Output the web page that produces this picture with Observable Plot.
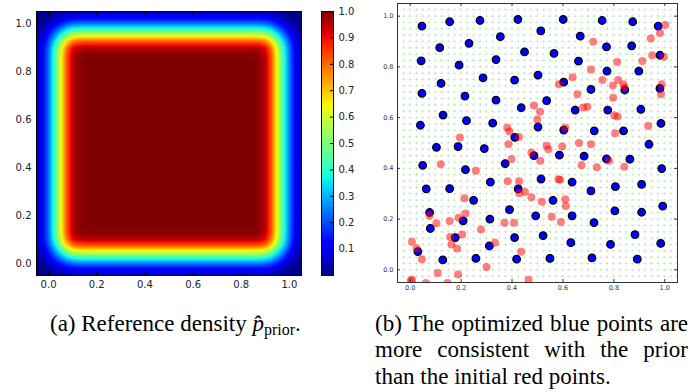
<!DOCTYPE html>
<html><head><meta charset="utf-8">
<script src="https://cdn.jsdelivr.net/npm/d3@7"></script>
<script src="https://cdn.jsdelivr.net/npm/@observablehq/plot@0.6"></script>
<style>
body{margin:0;background:#fff}
#fig{position:relative;width:690px;height:392px;overflow:hidden;font-family:"Liberation Serif",serif;color:#000}
#fig > svg, #fig > div{position:absolute}
.cap{font-size:23px;line-height:26.3px;white-space:nowrap}
.jl{display:block;width:313px;text-align:justify;text-align-last:justify;white-space:normal}
</style></head><body><div id="fig"></div>
<script>
// ---- data ----
// edge profile of the reference density, symmetric about 0.5
const profileX = [-0.06,-0.05,-0.025,0,0.025,0.05,0.075,0.1,0.125,0.15,0.85,0.875,0.9,0.925,0.95,0.975,1,1.025,1.05,1.06];
const profileV = [0.04,0.05,0.11,0.24,0.42,0.62,0.82,0.95,0.99,1.0,1.0,0.99,0.95,0.82,0.62,0.42,0.24,0.11,0.05,0.04];
const axisTicks = [0,0.2,0.4,0.6,0.8,1.0];
const cbarTicks = [0.1,0.2,0.3,0.4,0.5,0.6,0.7,0.8,0.9,1.0];
const jetStops = [0,0.11,0.125,0.34,0.35,0.375,0.64,0.65,0.66,0.89,0.91,1];
const jetColors = ["#000080","#0000ff","#0000ff","#00dbff","#00e6f7","#15ffe2","#eeff08","#f7f600","#ffec00","#ff1300","#e80000","#800000"];

const blueX = [0.046,0.155,0.274,0.423,0.601,0.754,0.874,0.974,0.116,0.231,0.354,0.513,0.668,0.771,0.870,0.981,0.043,0.192,0.337,0.449,0.565,0.661,0.773,0.898,0.121,0.286,0.410,0.502,0.603,0.710,0.843,0.981,0.046,0.215,0.337,0.536,0.436,0.648,0.776,0.906,0.129,0.040,0.221,0.324,0.502,0.603,0.723,0.838,0.985,0.411,0.938,0.103,0.188,0.291,0.486,0.586,0.683,0.771,0.863,0.049,0.217,0.373,0.988,0.063,0.155,0.315,0.424,0.514,0.561,0.636,0.710,0.806,0.909,0.249,0.076,0.208,0.313,0.390,0.493,0.636,0.722,0.804,0.909,0.992,0.079,0.177,0.410,0.522,0.631,0.787,0.883,0.984,0.030,0.128,0.258,0.311,0.418,0.549,0.714,0.892];
const blueY = [0.961,0.978,0.983,0.987,0.987,0.983,0.978,0.961,0.876,0.893,0.919,0.942,0.921,0.879,0.883,0.846,0.824,0.807,0.829,0.859,0.853,0.823,0.783,0.783,0.735,0.757,0.748,0.768,0.740,0.711,0.709,0.715,0.696,0.685,0.669,0.667,0.639,0.630,0.630,0.633,0.610,0.570,0.588,0.578,0.563,0.551,0.548,0.548,0.577,0.522,0.495,0.483,0.486,0.478,0.450,0.452,0.448,0.437,0.436,0.412,0.395,0.419,0.399,0.319,0.320,0.346,0.319,0.358,0.274,0.346,0.311,0.328,0.337,0.274,0.226,0.193,0.200,0.237,0.213,0.213,0.186,0.232,0.227,0.251,0.163,0.127,0.127,0.135,0.107,0.100,0.139,0.104,0.072,0.039,0.045,0.094,0.042,0.045,0.047,0.042];

const redX = [1.002,0.981,0.945,0.719,0.951,0.997,0.912,0.813,0.710,0.638,0.755,0.817,0.796,0.838,0.842,0.584,0.988,0.985,0.657,0.797,0.486,0.510,0.680,0.696,0.802,0.815,0.499,0.381,0.390,0.609,0.935,0.195,0.427,0.386,0.536,0.543,0.597,0.663,0.710,0.805,0.476,0.398,0.511,0.120,0.258,0.673,0.733,0.781,0.841,0.383,0.427,0.428,0.451,0.476,0.517,0.582,0.589,0.609,0.611,0.213,0.217,0.190,0.155,0.103,0.076,0.278,0.370,0.408,0.556,0.592,0.157,0.204,0.162,0.184,0.333,0.436,0.007,0.025,0.046,0.108,0.188,0.300,0.007,0.002,0.062,0.147,0.465];
const redY = [0.965,0.934,0.912,0.899,0.846,0.840,0.823,0.819,0.790,0.759,0.748,0.748,0.727,0.732,0.719,0.732,0.732,0.692,0.692,0.678,0.648,0.623,0.640,0.643,0.608,0.604,0.593,0.560,0.545,0.560,0.567,0.522,0.524,0.495,0.489,0.475,0.486,0.500,0.495,0.538,0.463,0.437,0.430,0.416,0.391,0.412,0.404,0.430,0.406,0.349,0.349,0.302,0.307,0.286,0.268,0.357,0.355,0.278,0.252,0.282,0.222,0.205,0.192,0.184,0.213,0.159,0.186,0.186,0.209,0.189,0.129,0.139,0.100,0.084,0.107,0.071,0.111,0.085,0.042,-0.013,-0.018,0.011,-0.039,-0.042,-0.052,-0.052,-0.039];

// ---- build tables ----
const field = [];
profileX.forEach((x, i) => profileX.forEach((y, j) => field.push({x, y, v: profileV[i] * profileV[j]})));
const blue = blueX.map((x, i) => ({x, y: blueY[i]}));
const red = redX.map((x, i) => ({x, y: redY[i]}));

const colorScale = {type: "linear", domain: jetStops, range: jetColors, interpolate: "rgb"};
const fmt = d3.format(".1f");
const fig = document.getElementById("fig");

// ---- panel (a): heatmap ----
const hmW = 310, hmH = 292, hmL = 36, hmR = 9, hmT = 11, hmB = 17;
const fw = hmW - hmL - hmR, fh = hmH - hmT - hmB;
const hm = Plot.plot({
  width: hmW, height: hmH, marginLeft: hmL, marginRight: hmR, marginTop: hmT, marginBottom: hmB,
  x: {domain: [-0.05, 1.05]}, y: {domain: [-0.05, 1.05]},
  color: colorScale,
  style: {fontFamily: "DejaVu Sans", fontSize: "10px", background: "transparent", overflow: "visible"},
  marks: [
    Plot.raster(field, {x: "x", y: "y", fill: "v", interpolate: "barycentric", x1: -0.05, x2: 1.05, y1: -0.05, y2: 1.05}),
    Plot.frame({stroke: "#000", strokeWidth: 1}),
    Plot.tickX(axisTicks, {x: d => d, insetTop: fh - 4, stroke: "#000"}),
    Plot.tickX(axisTicks, {x: d => d, insetBottom: fh - 4, stroke: "#000"}),
    Plot.tickY(axisTicks, {y: d => d, insetRight: fw - 4, stroke: "#000"}),
    Plot.tickY(axisTicks, {y: d => d, insetLeft: fw - 4, stroke: "#000"}),
    Plot.axisX(axisTicks, {tickSize: 0, tickPadding: 5, tickFormat: fmt, fill: "#222", label: null}),
    Plot.axisY(axisTicks, {tickSize: 0, tickPadding: 5, tickFormat: fmt, fill: "#222", label: null})
  ]
});
hm.style.left = "0px"; hm.style.top = "0px";
fig.appendChild(hm);

// ---- colorbar ----
const cbW = 50, cbL = 10, cbR = 28;
const cbw = cbW - cbL - cbR;
const cb = Plot.plot({
  width: cbW, height: hmH, marginLeft: cbL, marginRight: cbR, marginTop: hmT, marginBottom: hmB,
  x: {domain: [0, 1], axis: null}, y: {domain: [0, 1]},
  color: colorScale,
  style: {fontFamily: "DejaVu Sans", fontSize: "10px", background: "transparent", overflow: "visible"},
  marks: [
    Plot.raster({x1: 0, x2: 1, y1: 0, y2: 1, fill: (x, y) => y}),
    Plot.frame({stroke: "#000", strokeWidth: 1}),
    Plot.tickY(cbarTicks, {y: d => d, insetLeft: cbw - 3, stroke: "#000"}),
    Plot.axisY(cbarTicks, {anchor: "right", tickSize: 0, tickPadding: 5, tickFormat: fmt, fill: "#222", label: null})
  ]
});
cb.style.left = "311px"; cb.style.top = "0px";
fig.appendChild(cb);

// ---- panel (b): scatter ----
const scW = 320, scH = 292, scL = 27, scR = 13, scT = 3, scB = 10;
const sw = scW - scL - scR, sh = scH - scT - scB;
const sc = Plot.plot({
  width: scW, height: scH, marginLeft: scL, marginRight: scR, marginTop: scT, marginBottom: scB,
  x: {domain: [-0.05, 1.05]}, y: {domain: [-0.05, 1.05]},
  style: {fontFamily: "DejaVu Sans", fontSize: "6.5px", background: "transparent", overflow: "visible"},
  marks: [
    Plot.gridX({interval: 0.025, stroke: "#6cbf6c", strokeOpacity: 0.3, strokeWidth: 1, strokeDasharray: "3,3.36", strokeDashoffset: 1.5}),
    Plot.gridY({interval: 0.025, stroke: "#6cbf6c", strokeOpacity: 0.3, strokeWidth: 1, strokeDasharray: "3,3.35", strokeDashoffset: 1.5}),
    Plot.dot(blue, {x: "x", y: "y", r: 3.8, fill: "#0000ff", stroke: "#000", strokeWidth: 1.2, clip: true}),
    Plot.dot(red, {x: "x", y: "y", r: 4, fill: "#ff0000", fillOpacity: 0.5, clip: true}),
    Plot.frame({stroke: "#333", strokeWidth: 1}),
    Plot.tickX(axisTicks, {x: d => d, insetTop: sh - 3, stroke: "#333"}),
    Plot.tickX(axisTicks, {x: d => d, insetBottom: sh - 3, stroke: "#333"}),
    Plot.tickY(axisTicks, {y: d => d, insetRight: sw - 3, stroke: "#333"}),
    Plot.tickY(axisTicks, {y: d => d, insetLeft: sw - 3, stroke: "#333"}),
    Plot.axisX(axisTicks, {tickSize: 0, tickPadding: 2.5, tickFormat: fmt, fill: "#333", label: null}),
    Plot.axisY(axisTicks, {tickSize: 0, tickPadding: 4, tickFormat: fmt, fill: "#333", label: null})
  ]
});
sc.style.left = "370px"; sc.style.top = "0px";
fig.appendChild(sc);

// ---- captions ----
const capA = document.createElement("div");
capA.className = "cap";
capA.style.left = "50px"; capA.style.top = "311px";
capA.innerHTML = '(a) Reference density <i>p\u0302</i><span style="font-size:16px;position:relative;top:4px">prior</span>.';
fig.appendChild(capA);

const capB = document.createElement("div");
capB.className = "cap";
capB.style.left = "375px"; capB.style.top = "311px"; capB.style.width = "313px";
capB.innerHTML = '<span class="jl">(b) The optimized blue points are</span>' +
  '<span class="jl">more consistent with the prior</span>' +
  '<span style="display:block">than the initial red points.</span>';
fig.appendChild(capB);
</script></body></html>
